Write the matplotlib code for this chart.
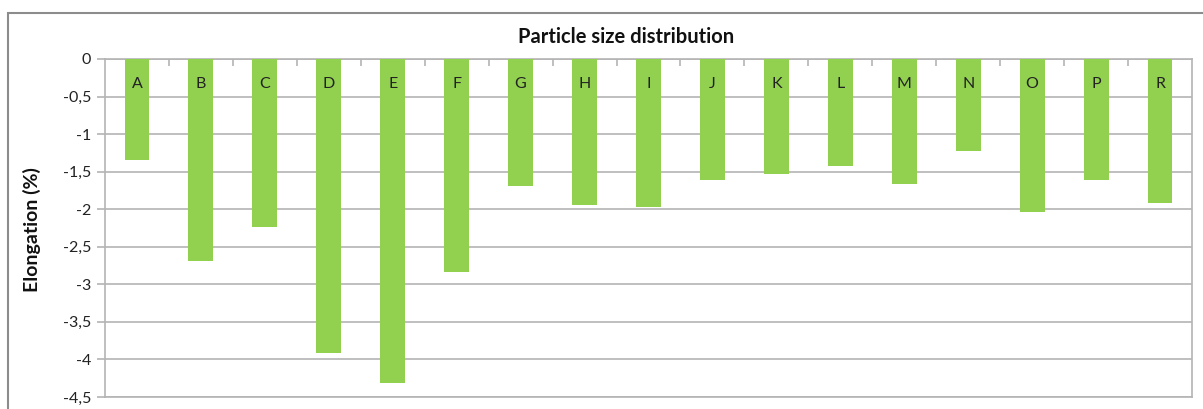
import matplotlib
matplotlib.use("Agg")
import matplotlib.pyplot as plt
from matplotlib.patches import Rectangle
from matplotlib.ticker import FuncFormatter, FixedLocator

plt.rcParams['font.family'] = ['Lato', 'DejaVu Sans']

samples = ['A', 'B', 'C', 'D', 'E', 'F', 'G', 'H', 'I', 'J', 'K', 'L', 'M', 'N', 'O', 'P', 'R']
elongation = [-1.35, -2.69, -2.24, -3.91, -4.32, -2.84, -1.69, -1.94, -1.97,
              -1.61, -1.53, -1.42, -1.66, -1.23, -2.04, -1.61, -1.92]
y_ticks = [0, -0.5, -1, -1.5, -2, -2.5, -3, -3.5, -4, -4.5]

W, H = 1203, 409
fig = plt.figure(figsize=(W / 100, H / 100), dpi=100)
# plot area in pixels: left 105, right 1192, top 59, bottom 397
ax = fig.add_axes([105 / W, 1 - 397 / H, (1192 - 105) / W, (397 - 59) / H])

green = '#92D050'
grid_c = '#B4B4B4'
x = range(len(samples))
ax.bar(x, elongation, width=0.39, color=green, zorder=3)

for i, name in enumerate(samples):
    ax.text(i, -0.33, name, ha='center', va='center', fontsize=11.5, color='#222222', zorder=4)

ax.set_xlim(-0.5, len(samples) - 0.5)
ax.set_ylim(-4.5, 0)
ax.yaxis.set_major_locator(FixedLocator(y_ticks))
ax.yaxis.set_major_formatter(FuncFormatter(lambda v, p: ('%g' % v).replace('.', ',')))
ax.tick_params(axis='y', labelsize=11.5, length=6, color=grid_c, width=1.2, pad=4, labelcolor='#222222')

# x axis sits at zero on top, with ticks between categories
ax.set_xticks([i + 0.5 for i in range(len(samples) - 1)])
ax.set_xticklabels([])
ax.xaxis.set_ticks_position('top')
ax.tick_params(axis='x', direction='in', length=5, color=grid_c, width=1.2)

ax.grid(axis='y', color=grid_c, linewidth=1.2, zorder=0)
for s in ax.spines.values():
    s.set_color(grid_c)
    s.set_linewidth(1.2)

# title is centred on the whole chart frame, not the plot area
fig.text(626 / W, 1 - 37 / H, 'Particle size distribution', ha='center', va='center',
         fontsize=14.5, fontweight='bold', color='#111111')
fig.text(32 / W, 1 - 230 / H, 'Elongation (%)', rotation=90, ha='center', va='center',
         fontsize=14, fontweight='bold', color='#111111')

# chart frame
fig.patches.append(Rectangle((8 / W, -0.05), 1.1, 1 - 13 / H + 0.05, transform=fig.transFigure,
                             fill=False, edgecolor='#8C8C8C', linewidth=1.5))

fig.savefig('out.png', dpi=100)
